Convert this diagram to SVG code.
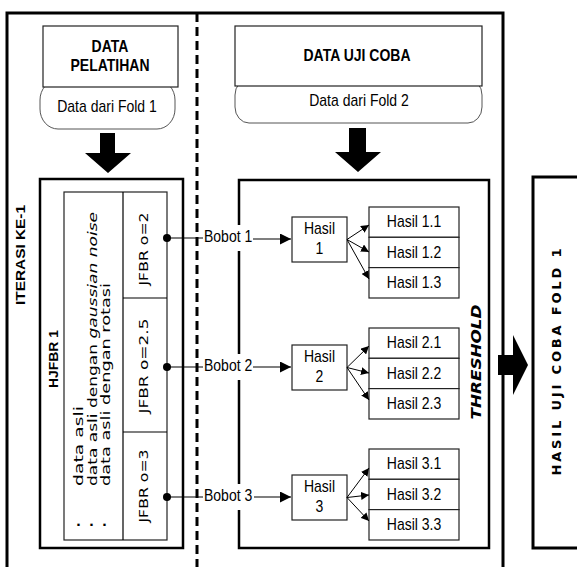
<svg xmlns="http://www.w3.org/2000/svg" width="577" height="567" viewBox="0 0 577 567">
<style>
.t{font-family:"Liberation Sans",Arial,sans-serif;font-size:14px;fill:#000}
.tb{font-family:"Liberation Sans",Arial,sans-serif;font-size:14px;font-weight:bold;fill:#000}
.rb{font-family:"Liberation Sans",Arial,sans-serif;font-size:13px;font-weight:bold;fill:#000}
.v{font-family:"DejaVu Sans",Verdana,sans-serif;font-size:13px;fill:#000}
.vb{font-family:"DejaVu Sans",Verdana,sans-serif;font-size:13px;font-weight:bold;fill:#000}
.vbi{font-family:"DejaVu Sans",Verdana,sans-serif;font-size:14px;font-weight:bold;font-style:italic;fill:#000}
.c{text-anchor:middle}
.thin{fill:#fff;stroke:#222;stroke-width:1.2}
.soft{fill:#fff;stroke:#555;stroke-width:1}
.thick{fill:none;stroke:#000;stroke-width:3}
.med{fill:#fff;stroke:#000;stroke-width:2.5}
.ln{fill:none;stroke:#000;stroke-width:1.2}
.fan{fill:none;stroke:#000;stroke-width:1}
</style>
<defs>
<marker id="ah" viewBox="0 0 10 10" refX="10" refY="5" markerWidth="11" markerHeight="11" markerUnits="userSpaceOnUse" orient="auto"><path d="M0,0 L10,5 L0,10 z" fill="#000"/></marker>
<marker id="ahs" viewBox="0 0 10 10" refX="10" refY="5" markerWidth="8" markerHeight="8" markerUnits="userSpaceOnUse" orient="auto"><path d="M0,0 L10,5 L0,10 z" fill="#000"/></marker>
</defs>

<g id="frame">
<path class="thick" d="M7,567 V13 H503 V567"/>
<line x1="197" y1="13" x2="197" y2="567" stroke="#000" stroke-width="3" stroke-dasharray="9 5"/>
<g transform="translate(25,255) rotate(-90)"><text class="rb c" x="0" y="0" textLength="100" lengthAdjust="spacingAndGlyphs">ITERASI KE-1</text></g>
</g>

<g id="data-pelatihan">
<rect class="soft" x="40" y="80" width="135" height="49" rx="18" ry="20"/>
<rect class="thin" x="43" y="26" width="135" height="61"/>
<g transform="translate(110,52) scale(1,1.15)"><text class="tb c" x="0" y="0">DATA</text></g>
<g transform="translate(110,71) scale(1,1.15)"><text class="tb c" x="0" y="0">PELATIHAN</text></g>
<g transform="translate(107,112) scale(1,1.15)"><text class="t c" x="0" y="0">Data dari Fold 1</text></g>
<path d="M100,133 H115 V153 H131 L108,173 L85,153 H100 z" fill="#000"/>
</g>

<g id="data-uji">
<rect class="soft" x="235" y="79" width="247" height="44" rx="14" ry="16"/>
<rect class="thin" x="235" y="26" width="247" height="60"/>
<g transform="translate(357,61) scale(1,1.15)"><text class="tb c" x="0" y="0">DATA UJI COBA</text></g>
<g transform="translate(359,106) scale(1,1.15)"><text class="t c" x="0" y="0">Data dari Fold 2</text></g>
<path d="M349,128 H366 V152 H381 L358,172 L335,152 H349 z" fill="#000"/>
</g>

<g id="hjfbr">
<rect class="med" x="40" y="179" width="143" height="369"/>
<rect class="thin" x="64" y="192" width="103" height="348"/>
<path class="ln" d="M123,192 V540 M123,298 H167 M123,432 H167"/>
<g transform="translate(58,359) rotate(-90)"><text class="rb c" x="0" y="0" textLength="58" lengthAdjust="spacingAndGlyphs">HJFBR 1</text></g>
<g transform="translate(83,486) rotate(-90)"><text class="v" x="0" y="0" textLength="80" lengthAdjust="spacingAndGlyphs">data asli</text></g>
<g transform="translate(97,486) rotate(-90)"><text class="v" x="0" y="0" textLength="274" lengthAdjust="spacingAndGlyphs">data asli dengan <tspan font-style="italic">gaussian noise</tspan></text></g>
<g transform="translate(110,486) rotate(-90)"><text class="v" x="0" y="0" textLength="203" lengthAdjust="spacingAndGlyphs">data asli dengan rotasi</text></g>
<text class="vb" x="76 89 102" y="526">...</text>
<g transform="translate(148,249) rotate(-90)"><text class="v c" x="0" y="0" textLength="73" lengthAdjust="spacingAndGlyphs">JFBR o=2</text></g>
<g transform="translate(148,366) rotate(-90)"><text class="v c" x="0" y="0" textLength="95" lengthAdjust="spacingAndGlyphs">JFBR o=2.5</text></g>
<g transform="translate(148,486) rotate(-90)"><text class="v c" x="0" y="0" textLength="73" lengthAdjust="spacingAndGlyphs">JFBR o=3</text></g>
</g>

<g id="threshold">
<rect class="med" x="239" y="180" width="250" height="368"/>
<g transform="translate(481,362) rotate(-90)"><text class="vbi c" x="0" y="0" textLength="115" lengthAdjust="spacingAndGlyphs">THRESHOLD</text></g>
</g>

<g id="hasil1">
<rect class="thin" x="292" y="217" width="55" height="45"/>
<g transform="translate(319.5,234) scale(1,1.15)"><text class="t c" x="0" y="0">Hasil</text></g>
<g transform="translate(319.5,254) scale(1,1.15)"><text class="t c" x="0" y="0">1</text></g>
</g>
<g id="hasil2">
<rect class="thin" x="292" y="345" width="55" height="45"/>
<g transform="translate(319.5,362) scale(1,1.15)"><text class="t c" x="0" y="0">Hasil</text></g>
<g transform="translate(319.5,382) scale(1,1.15)"><text class="t c" x="0" y="0">2</text></g>
</g>
<g id="hasil3">
<rect class="thin" x="292" y="475" width="55" height="45"/>
<g transform="translate(319.5,492) scale(1,1.15)"><text class="t c" x="0" y="0">Hasil</text></g>
<g transform="translate(319.5,512) scale(1,1.15)"><text class="t c" x="0" y="0">3</text></g>
</g>

<g id="sub1">
<rect class="thin" x="369" y="207" width="90" height="30.3"/>
<rect class="thin" x="369" y="237.3" width="90" height="30.3"/>
<rect class="thin" x="369" y="267.6" width="90" height="30.4"/>
<g transform="translate(414,227) scale(1,1.15)"><text class="t c" x="0" y="0">Hasil 1.1</text></g>
<g transform="translate(414,257.5) scale(1,1.15)"><text class="t c" x="0" y="0">Hasil 1.2</text></g>
<g transform="translate(414,288) scale(1,1.15)"><text class="t c" x="0" y="0">Hasil 1.3</text></g>
</g>
<g id="sub2">
<rect class="thin" x="369" y="328" width="90" height="30.3"/>
<rect class="thin" x="369" y="358.3" width="90" height="30.3"/>
<rect class="thin" x="369" y="388.6" width="90" height="30.4"/>
<g transform="translate(414,348) scale(1,1.15)"><text class="t c" x="0" y="0">Hasil 2.1</text></g>
<g transform="translate(414,378.5) scale(1,1.15)"><text class="t c" x="0" y="0">Hasil 2.2</text></g>
<g transform="translate(414,409) scale(1,1.15)"><text class="t c" x="0" y="0">Hasil 2.3</text></g>
</g>
<g id="sub3">
<rect class="thin" x="369" y="449" width="90" height="30.3"/>
<rect class="thin" x="369" y="479.3" width="90" height="30.3"/>
<rect class="thin" x="369" y="509.6" width="90" height="30.4"/>
<g transform="translate(414,469) scale(1,1.15)"><text class="t c" x="0" y="0">Hasil 3.1</text></g>
<g transform="translate(414,499.5) scale(1,1.15)"><text class="t c" x="0" y="0">Hasil 3.2</text></g>
<g transform="translate(414,530) scale(1,1.15)"><text class="t c" x="0" y="0">Hasil 3.3</text></g>
</g>

<g id="hasil-uji">
<path class="thick" d="M590,177 H533 V548 H590"/>
<g transform="translate(561,362) rotate(-90)"><text class="vb c" x="0" y="0" textLength="227" lengthAdjust="spacing">HASIL UJI COBA FOLD 1</text></g>
</g>

<g id="connectors">
<rect x="201" y="225" width="52" height="26" fill="#fff"/>
<rect x="201" y="354" width="52" height="26" fill="#fff"/>
<rect x="201" y="484" width="52" height="26" fill="#fff"/>
<path class="ln" d="M167,238 H203 M167,367 H203 M167,497 H203"/>
<circle cx="167" cy="238" r="4"/>
<circle cx="167" cy="367" r="4"/>
<circle cx="167" cy="497" r="4"/>
<g transform="translate(204,242) scale(1,1.15)"><text class="t" x="0" y="0">Bobot 1</text></g>
<g transform="translate(204,371) scale(1,1.15)"><text class="t" x="0" y="0">Bobot 2</text></g>
<g transform="translate(204,501) scale(1,1.15)"><text class="t" x="0" y="0">Bobot 3</text></g>
<path class="ln" d="M253,239 H291" marker-end="url(#ah)"/>
<path class="ln" d="M253,367 H291" marker-end="url(#ah)"/>
<path class="ln" d="M254,497 H291" marker-end="url(#ah)"/>
<path class="fan" d="M347,239.5 L369,225" marker-end="url(#ahs)"/>
<path class="fan" d="M347,239.5 L369,252" marker-end="url(#ahs)"/>
<path class="fan" d="M347,239.5 L369,279" marker-end="url(#ahs)"/>
<path class="fan" d="M347,367.5 L369,346" marker-end="url(#ahs)"/>
<path class="fan" d="M347,367.5 L369,373" marker-end="url(#ahs)"/>
<path class="fan" d="M347,367.5 L369,400" marker-end="url(#ahs)"/>
<path class="fan" d="M347,497.5 L369,468" marker-end="url(#ahs)"/>
<path class="fan" d="M347,497.5 L369,495" marker-end="url(#ahs)"/>
<path class="fan" d="M347,497.5 L369,521" marker-end="url(#ahs)"/>
<path d="M498,355 H513 V335 L528,365 L513,395 V375 H498 z" fill="#000"/>
</g>
</svg>
